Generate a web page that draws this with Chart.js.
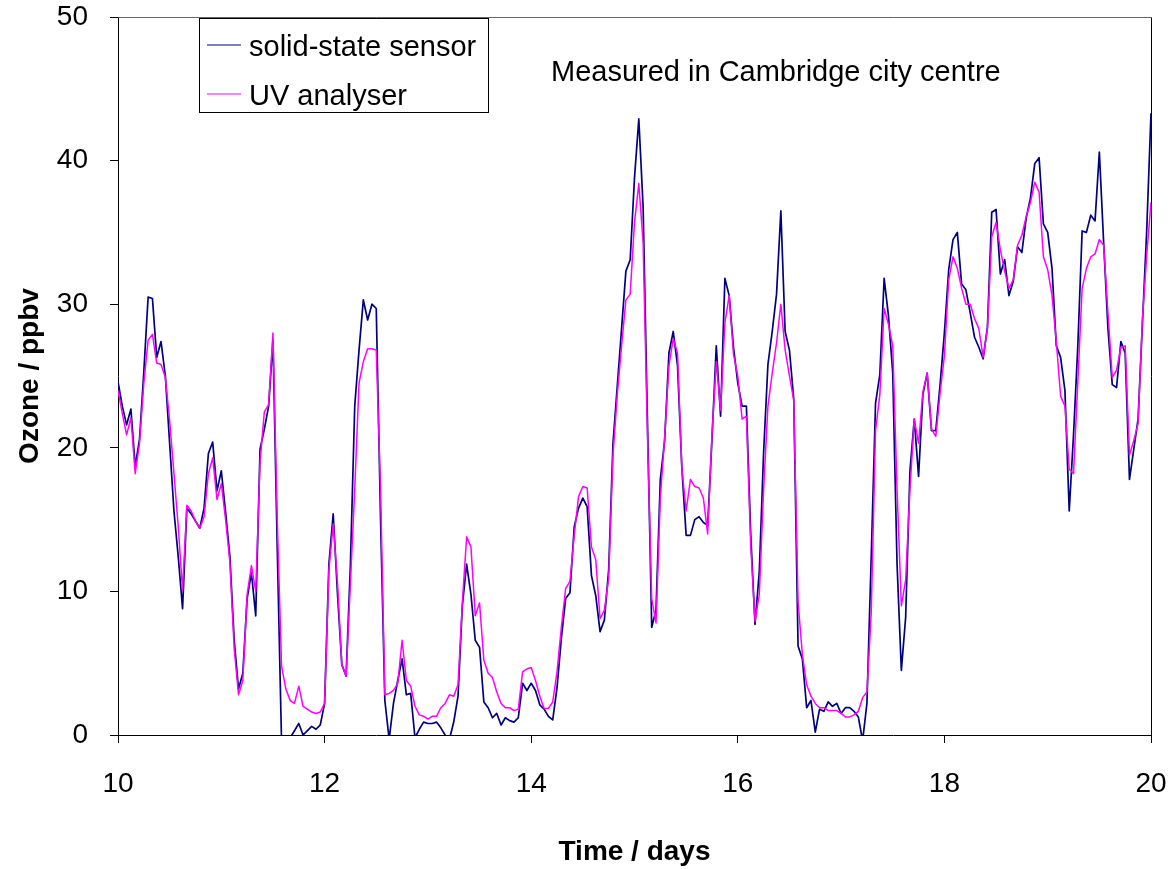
<!DOCTYPE html>
<html>
<head>
<meta charset="utf-8">
<script src="https://cdn.jsdelivr.net/npm/chart.js@4.4.1/dist/chart.umd.min.js"></script>
<style>
  html, body { margin: 0; padding: 0; background: #fff; }
  #wrap { width: 1171px; height: 869px; }
</style>
</head>
<body>
<div id="wrap"><canvas id="ozoneChart" width="1171" height="869"></canvas></div>
<script>
// hourly readings starting at day 10
const startDay = 10;
const hoursPerDay = 24;

const seriesNames = ['solid-state sensor', 'UV analyser'];

const solidState = [
  24.6, 22.9, 21.6, 22.7, 18.7, 20.6, 25.3, 30.5, 30.4, 26.3,
  27.4, 25.0, 20.3, 15.6, 12.4, 8.8, 15.8, 15.4, 14.9, 14.4,
  15.8, 19.6, 20.4, 17.0, 18.4, 15.5, 12.4, 6.6, 3.2, 4.3,
  9.5, 11.3, 8.3, 19.9, 21.3, 22.9, 27.5, 13.0, -0.5, -0.3,
  -0.2, 0.3, 0.8, 0.0, 0.3, 0.6, 0.4, 0.7, 2.2, 11.9,
  15.4, 9.8, 4.9, 4.1, 11.9, 22.9, 26.8, 30.3, 28.9, 30.0,
  29.7, 15.0, 2.4, -0.3, 2.2, 3.8, 5.3, 2.8, 2.9, -0.2,
  0.4, 0.9, 0.8, 0.8, 0.9, 0.5, 0.0, -0.3, 0.9, 2.7,
  9.0, 11.9, 9.8, 6.6, 6.1, 2.3, 1.9, 1.2, 1.5, 0.7,
  1.2, 1.0, 0.9, 1.2, 3.6, 3.1, 3.6, 3.1, 2.1, 1.8,
  1.3, 1.05, 3.3, 6.7, 9.5, 9.9, 14.5, 15.8, 16.5, 15.9,
  11.1, 9.7, 7.2, 8.0, 11.5, 20.3, 24.3, 28.3, 32.3, 33.1,
  38.8, 42.9, 36.8, 22.0, 7.5, 8.7, 17.8, 20.5, 26.6, 28.1,
  25.7, 18.6, 13.9, 13.9, 15.0, 15.2, 14.8, 14.6, 20.6, 27.1,
  22.2, 31.8, 30.6, 27.0, 24.5, 22.9, 22.9, 14.0, 7.7, 11.4,
  19.7, 25.8, 28.1, 30.7, 36.5, 28.1, 26.8, 23.4, 6.2, 5.3,
  1.9, 2.4, 0.2, 1.8, 1.65, 2.3, 2.0, 2.2, 1.5, 1.9,
  1.9, 1.65, 1.26, -0.4, 2.2, 12.4, 23.1, 25.1, 31.8, 29.2,
  25.2, 11.9, 4.5, 8.2, 18.4, 22.0, 18.0, 23.7, 25.2, 21.2,
  21.2, 24.4, 28.0, 32.4, 34.5, 35.0, 31.4, 31.0, 29.4, 27.7,
  27.0, 26.2, 28.4, 36.4, 36.6, 32.1, 33.1, 30.6, 31.6, 34.0,
  33.6, 36.0, 37.4, 39.8, 40.2, 35.6, 35.0, 32.5, 27.1, 26.3,
  24.0, 15.6, 20.9, 27.1, 35.1, 35.0, 36.2, 35.8, 40.6, 34.3,
  28.3, 24.4, 24.2, 27.4, 26.6, 17.8, 19.9, 22.0, 28.6, 35.1,
  43.3
];

const uvAnalyser = [
  24.0, 22.4, 20.9, 22.1, 18.2, 20.3, 24.5, 27.5, 27.9, 25.9,
  25.8, 24.9, 21.9, 18.2, 14.5, 10.1, 16.0, 15.6, 14.9, 14.4,
  15.2, 18.2, 19.3, 16.4, 17.5, 15.0, 12.0, 6.0, 2.8, 3.8,
  9.8, 11.8, 10.0, 19.0, 22.5, 23.0, 28.0, 15.0, 4.8, 3.2,
  2.4, 2.2, 3.4, 2.0, 1.8, 1.6, 1.5, 1.6, 2.2, 11.5,
  14.7, 10.6, 4.9, 4.1, 10.6, 17.1, 24.5, 26.0, 26.9, 26.9,
  26.8, 17.1, 2.8, 2.9, 3.1, 3.6, 6.6, 3.8, 3.4, 2.0,
  1.4, 1.3, 1.1, 1.3, 1.3, 1.9, 2.2, 2.8, 2.7, 3.5,
  9.2, 13.8, 13.1, 8.3, 9.2, 5.2, 4.3, 4.0, 3.0, 2.2,
  1.9, 1.9, 1.7, 1.8, 4.4, 4.6, 4.7, 3.8, 2.7, 1.85,
  1.85, 2.3, 4.4, 7.5, 10.2, 10.7, 13.9, 16.6, 17.3, 17.2,
  13.1, 12.2, 8.1, 8.7, 10.9, 19.5, 23.7, 27.1, 30.3, 30.7,
  35.7, 38.4, 34.3, 21.0, 9.5, 7.8, 16.5, 20.7, 25.7, 27.6,
  26.6, 18.6, 15.6, 17.8, 17.3, 17.2, 16.5, 14.0, 20.9, 26.0,
  22.6, 28.7, 30.6, 26.5, 25.0, 22.0, 22.2, 13.2, 7.9, 9.8,
  17.1, 22.9, 25.2, 27.3, 30.0, 26.8, 25.0, 23.3, 9.3, 5.6,
  3.5, 2.7, 2.2, 1.9, 1.9, 1.7, 1.7, 1.7, 1.5, 1.26,
  1.26, 1.4, 1.65, 2.6, 3.0, 8.5, 21.2, 23.7, 29.7, 28.6,
  27.1, 17.1, 9.0, 10.8, 17.1, 22.0, 20.3, 23.9, 25.2, 21.3,
  20.8, 23.8, 26.4, 31.7, 33.3, 32.5, 31.1, 30.0, 30.0, 29.0,
  28.3, 26.3, 28.3, 34.7, 35.7, 33.8, 32.3, 31.1, 31.7, 34.1,
  34.8, 36.1, 37.1, 38.5, 37.8, 33.3, 32.4, 30.6, 27.4, 23.6,
  22.9, 18.5, 18.2, 24.6, 31.1, 32.5, 33.3, 33.5, 34.5, 34.1,
  29.4, 24.9, 25.4, 27.0, 27.1, 19.5, 20.5, 21.7, 28.9, 33.4,
  37.1
];

const xTicks = [10, 12, 14, 16, 18, 20];
const yTicks = [0, 10, 20, 30, 40, 50];
const noteText = 'Measured in Cambridge city centre';

const FONT = "'Liberation Sans', Arial, sans-serif";
const NAVY = '#000080';
const MAGENTA = '#ff00ff';

function toPoints(values) {
  return values.map((v, i) => ({ x: startDay + i / hoursPerDay, y: v }));
}

// boxed legend, note text and the top/right frame of the plot area
const decorations = {
  id: 'decorations',
  afterDraw(chart, args, opts) {
    const ctx = chart.ctx;
    const area = chart.chartArea;
    ctx.save();

    ctx.lineWidth = 1;
    ctx.strokeStyle = '#666';
    ctx.beginPath();
    ctx.moveTo(Math.round(area.left) + 0.5, Math.round(area.top) + 0.5);
    ctx.lineTo(Math.round(area.right) + 0.5, Math.round(area.top) + 0.5);
    ctx.stroke();
    ctx.strokeStyle = '#000';
    ctx.beginPath();
    ctx.moveTo(Math.round(area.right) + 0.5, Math.round(area.top) + 0.5);
    ctx.lineTo(Math.round(area.right) + 0.5, Math.round(area.bottom) + 0.5);
    ctx.stroke();

    const b = opts.legendBox;
    ctx.fillStyle = '#fff';
    ctx.fillRect(b.x, b.y, b.w, b.h);
    ctx.strokeRect(b.x + 0.5, b.y + 0.5, b.w, b.h);

    ctx.font = '29px ' + FONT;
    ctx.textBaseline = 'middle';
    ctx.textAlign = 'left';
    chart.data.datasets.forEach((ds, i) => {
      const y = b.y + b.rowTop + i * b.rowGap;
      ctx.strokeStyle = ds.borderColor;
      ctx.lineWidth = 1.2;
      ctx.beginPath();
      ctx.moveTo(b.x + 8, y - 3);
      ctx.lineTo(b.x + 42, y - 3);
      ctx.stroke();
      ctx.fillStyle = '#000';
      ctx.fillText(ds.label, b.x + 50, y);
    });

    ctx.fillText(noteText, opts.note.x, opts.note.y);
    ctx.restore();
  }
};

new Chart(document.getElementById('ozoneChart'), {
  type: 'line',
  data: {
    datasets: [
      {
        label: seriesNames[0],
        data: toPoints(solidState),
        borderColor: NAVY,
        borderWidth: 1.7,
        order: 1
      },
      {
        label: seriesNames[1],
        data: toPoints(uvAnalyser),
        borderColor: MAGENTA,
        borderWidth: 1.5,
        order: 0
      }
    ]
  },
  options: {
    responsive: false,
    animation: false,
    devicePixelRatio: 1,
    parsing: false,
    elements: {
      point: { radius: 0 },
      line: { tension: 0, fill: false, borderJoinStyle: 'round' }
    },
    layout: { padding: { top: 17, right: 20, left: 0, bottom: 0 } },
    plugins: {
      legend: { display: false },
      tooltip: { enabled: false },
      decorations: {
        legendBox: { x: 199, y: 18, w: 289, h: 94, rowTop: 30, rowGap: 49 },
        note: { x: 551, y: 73 }
      }
    },
    scales: {
      x: {
        type: 'linear',
        min: 10,
        max: 20,
        afterBuildTicks: s => { s.ticks = xTicks.map(v => ({ value: v })); },
        afterFit: s => { s.height = 134; s.paddingLeft = 0; s.paddingRight = 0; },
        grid: { drawOnChartArea: false, tickLength: 8, color: '#000' },
        border: { color: '#000', width: 1 },
        ticks: {
          color: '#000',
          padding: 24,
          maxRotation: 0,
          font: { family: FONT, size: 28 }
        },
        title: {
          display: true,
          text: 'Time / days',
          color: '#000',
          padding: { top: 0, bottom: 0 },
          font: { family: FONT, size: 28, weight: 'bold' }
        }
      },
      y: {
        min: 0,
        max: 50,
        afterBuildTicks: s => { s.ticks = yTicks.map(v => ({ value: v })); },
        afterFit: s => { s.width = 118; s.paddingTop = 0; s.paddingBottom = 0; },
        grid: { drawOnChartArea: false, tickLength: 8, color: '#000' },
        border: { color: '#000', width: 1 },
        ticks: {
          color: '#000',
          padding: 22,
          font: { family: FONT, size: 28 }
        },
        title: {
          display: true,
          text: 'Ozone / ppbv',
          color: '#000',
          padding: { top: 13, bottom: 0 },
          font: { family: FONT, size: 28, weight: 'bold' }
        }
      }
    }
  },
  plugins: [decorations]
});
</script>
</body>
</html>
